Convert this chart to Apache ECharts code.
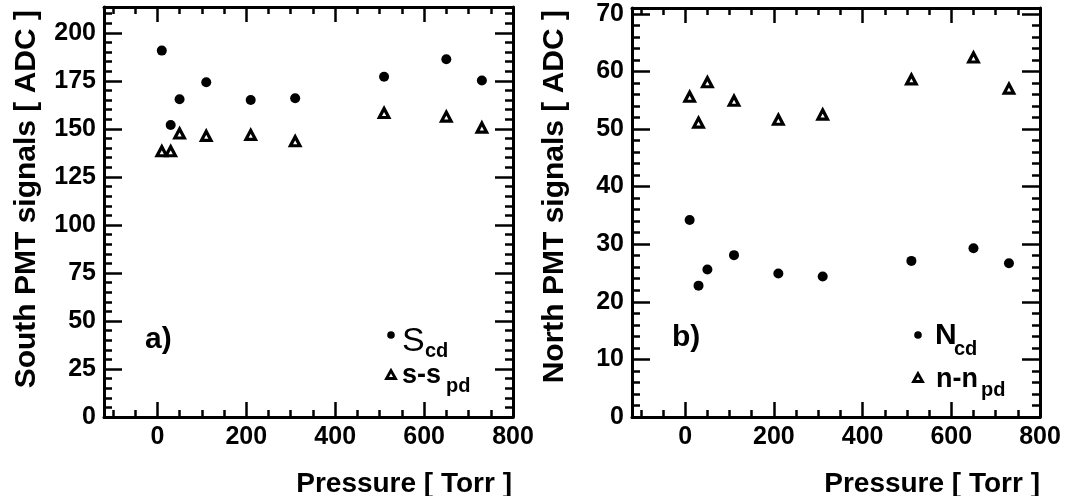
<!DOCTYPE html>
<html>
<head>
<meta charset="utf-8">
<title>PMT signals vs pressure</title>
<script src="https://cdn.jsdelivr.net/npm/echarts@6/dist/echarts.min.js"></script>
<style>
  html, body { margin: 0; padding: 0; background: #fff; }
  #chart { width: 1067px; height: 496px; }
</style>
</head>
<body>
<div id="chart"></div>
<script>
// Gas pressure of each run [Torr]
const pressure = [10, 30, 50, 110, 210, 310, 510, 650, 730];

// South PMT: charge-division signal and pedestal-subtracted signal [ADC]
const southCd = [190.8, 152.1, 165.5, 174.3, 165.1, 166.0, 177.2, 186.3, 175.2];
const southSPd = [138.4, 138.4, 147.6, 146.4, 146.9, 143.6, 158.3, 156.4, 150.7];

// North PMT: same quantities [ADC]
const northCd = [34.2, 22.8, 25.6, 28.1, 24.9, 24.4, 27.1, 29.3, 26.7];
const northNPd = [55.6, 51.1, 58.1, 54.9, 51.6, 52.5, 58.6, 62.4, 57.0];

// Tick positions
const xMajorTicks = [0, 200, 400, 600, 800];
const southMajorTicks = [0, 25, 50, 75, 100, 125, 150, 175, 200];
const northMajorTicks = [0, 10, 20, 30, 40, 50, 60, 70];

// minor ticks between the major ones
function minorTicks(from, to, step, major) {
  const out = [];
  for (let v = from; v <= to + 1e-9; v += step) {
    const r = Math.round(v * 1000) / 1000;
    if (r % major !== 0) out.push(r);
  }
  return out;
}
const xMinorTicks = minorTicks(-100, 750, 50, 200);
const southMinorTicks = minorTicks(5, 210, 5, 25);
const northMinorTicks = minorTicks(2, 70, 2, 10);

const X_MIN = -120, X_MAX = 800;
const SOUTH_MAX = 213.5, NORTH_MAX = 71;

const FONT = '"Liberation Sans", Arial, Helvetica, sans-serif';
const BLACK = '#000';

function axis(opts) {
  return {
    type: 'value',
    gridIndex: opts.grid,
    position: opts.position,
    min: opts.min,
    max: opts.max,
    splitLine: { show: false },
    axisLine: { show: opts.line, onZero: false, lineStyle: { color: BLACK, width: 3 } },
    axisTick: {
      show: true, inside: true, length: opts.tickLen,
      customValues: opts.ticks,
      lineStyle: { color: BLACK, width: 2.5 }
    },
    axisLabel: opts.labels ? {
      show: true, customValues: opts.labels, margin: opts.margin,
      color: BLACK, fontFamily: FONT, fontWeight: 'bold', fontSize: 25
    } : { show: false },
    z: 5
  };
}

// four x axes and four y axes per panel: main + minor, both sides
function xAxes(grid) {
  return [
    axis({ grid, position: 'bottom', min: X_MIN, max: X_MAX, line: true, tickLen: 15, ticks: xMajorTicks, labels: xMajorTicks, margin: 8 }),
    axis({ grid, position: 'bottom', min: X_MIN, max: X_MAX, line: false, tickLen: 7, ticks: xMinorTicks }),
    axis({ grid, position: 'top', min: X_MIN, max: X_MAX, line: true, tickLen: 15, ticks: xMajorTicks }),
    axis({ grid, position: 'top', min: X_MIN, max: X_MAX, line: false, tickLen: 7, ticks: xMinorTicks })
  ];
}
function yAxes(grid, max, major, minor) {
  return [
    axis({ grid, position: 'left', min: 0, max, line: true, tickLen: 18, ticks: major, labels: major, margin: 8 }),
    axis({ grid, position: 'left', min: 0, max, line: false, tickLen: 8, ticks: minor }),
    axis({ grid, position: 'right', min: 0, max, line: true, tickLen: 18, ticks: major }),
    axis({ grid, position: 'right', min: 0, max, line: false, tickLen: 8, ticks: minor })
  ];
}

function pairs(xs, ys) { return xs.map((x, i) => [x, ys[i]]); }

const dotStyle = { color: BLACK, opacity: 1 };
const triStyle = { color: '#fff', borderColor: BLACK, borderWidth: 3.2, opacity: 1 };

function text(x, y, str, font, align, vAlign, rotation) {
  return {
    type: 'text', x, y, rotation: rotation || 0, z: 10,
    style: {
      text: str, font, fill: BLACK,
      align, verticalAlign: vAlign, textAlign: align, textVerticalAlign: vAlign
    }
  };
}
function legendDot(x, y) {
  return { type: 'circle', shape: { cx: x, cy: y, r: 3.8 }, style: { fill: BLACK }, z: 10 };
}
function legendTri(x, y) {
  return {
    type: 'polygon', z: 10,
    shape: { points: [[x, y - 4.5], [x - 4.5, y + 3.5], [x + 4.5, y + 3.5]] },
    style: { fill: '#fff', stroke: BLACK, lineWidth: 2.8 }
  };
}

const titleFont = 'bold 28px ' + FONT;
const panelFont = 'bold 30px ' + FONT;
const subFont = 'bold 20px ' + FONT;

const option = {
  animation: false,
  backgroundColor: '#fff',
  grid: [
    { left: 104, top: 7, width: 409, height: 410, containLabel: false, outerBoundsMode: 'none' },
    { left: 632, top: 8, width: 408, height: 409, containLabel: false, outerBoundsMode: 'none' }
  ],
  xAxis: xAxes(0).concat(xAxes(1)),
  yAxis: yAxes(0, SOUTH_MAX, southMajorTicks, southMinorTicks)
    .concat(yAxes(1, NORTH_MAX, northMajorTicks, northMinorTicks)),
  series: [
    { name: 'S_cd', type: 'scatter', xAxisIndex: 0, yAxisIndex: 0, symbol: 'circle', symbolSize: 10,
      itemStyle: dotStyle, data: pairs(pressure, southCd), z: 6 },
    { name: 's-s_pd', type: 'scatter', xAxisIndex: 0, yAxisIndex: 0, symbol: 'triangle', symbolSize: [9.5, 9],
      itemStyle: triStyle, data: pairs(pressure, southSPd), z: 6 },
    { name: 'N_cd', type: 'scatter', xAxisIndex: 4, yAxisIndex: 4, symbol: 'circle', symbolSize: 10,
      itemStyle: dotStyle, data: pairs(pressure, northCd), z: 6 },
    { name: 'n-n_pd', type: 'scatter', xAxisIndex: 4, yAxisIndex: 4, symbol: 'triangle', symbolSize: [9.5, 9],
      itemStyle: triStyle, data: pairs(pressure, northNPd), z: 6 }
  ],
  graphic: [
    // axis titles
    text(27, 10, 'South PMT signals [ ADC ]', 'bold 30px ' + FONT, 'right', 'middle', Math.PI / 2),
    text(555, 10, 'North PMT signals [ ADC ]', 'bold 30px ' + FONT, 'right', 'middle', Math.PI / 2),
    text(512, 484, 'Pressure [ Torr ]', titleFont, 'right', 'middle'),
    text(1040, 484, 'Pressure [ Torr ]', titleFont, 'right', 'middle'),
    // panel tags
    text(145, 340, 'a)', panelFont, 'left', 'middle'),
    text(672, 338, 'b)', panelFont, 'left', 'middle'),
    // legend, panel a
    legendDot(391, 335),
    text(402, 342, 'S', '34px ' + FONT, 'left', 'middle'),
    text(425, 351, 'cd', subFont, 'left', 'middle'),
    legendTri(391, 375),
    text(402, 376, 's-s', 'bold 27px ' + FONT, 'left', 'middle'),
    text(446, 386, 'pd', subFont, 'left', 'middle'),
    // legend, panel b
    legendDot(918, 335),
    text(935, 336, 'N', 'bold 30px ' + FONT, 'left', 'middle'),
    text(954, 349, 'cd', subFont, 'left', 'middle'),
    legendTri(918, 378),
    text(936, 380, 'n-n', 'bold 27px ' + FONT, 'left', 'middle'),
    text(981, 390, 'pd', subFont, 'left', 'middle')
  ]
};

const chart = echarts.init(document.getElementById('chart'), null, { renderer: 'canvas' });
chart.setOption(option);
</script>
</body>
</html>
